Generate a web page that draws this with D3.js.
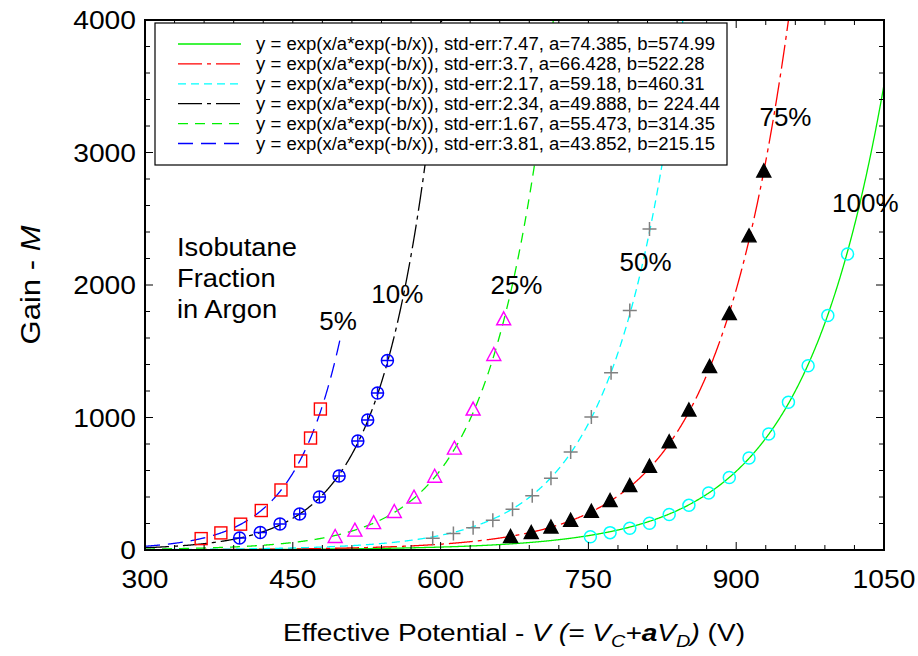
<!DOCTYPE html>
<html><head><meta charset="utf-8">
<script src="https://cdn.jsdelivr.net/npm/d3@7/dist/d3.min.js"></script>
<style>
body{margin:0;background:#fff;}
text{font-family:"Liberation Sans",Arial,sans-serif;fill:#000;}
</style></head>
<body>
<svg id="chart" width="918" height="656"></svg>
<script>
// ---------------- data ----------------
const xTicks = [300, 450, 600, 750, 900, 1050];
const yTicks = [0, 1000, 2000, 3000, 4000];
// fit parameters (legend order)
const fitNames = ["100%", "75%", "50%", "10%", "25%", "5%"];
const fitA = [74.385, 66.428, 59.18, 49.888, 55.473, 43.852];
const fitB = [574.99, 522.28, 460.31, 224.44, 314.35, 215.15];
const fitErr = ["7.47", "3.7", "2.17", "2.34", "1.67", "3.81"];
const fitAText = ["74.385", "66.428", "59.18", "49.888", "55.473", "43.852"];
const fitBText = ["574.99", "522.28", "460.31", " 224.44", "314.35", "215.15"];
const fitVMax = [1050, 1050, 1050, 1050, 1050, 498];
// measured points
const v5  = [357, 377, 397, 418, 438, 458, 468, 478];
const g5  = [86, 129, 195, 298, 453, 672, 845, 1064];
const v10 = [396, 417, 437, 457, 477, 497, 516, 526, 536, 546];
const g10 = [91, 132, 196, 272, 400, 558, 823, 981, 1185, 1430];
const v25 = [493, 513, 532, 553, 573, 594, 614, 633, 654, 664];
const g25 = [98, 146, 203, 287, 395, 553, 765, 1060, 1472, 1741];
const v50 = [592, 613, 633, 653, 673, 693, 712, 732, 753, 773, 792, 812];
const g50 = [88, 125, 168, 225, 307, 409, 541, 740, 1003, 1338, 1808, 2423];
const v75 = [671, 692, 712, 732, 753, 772, 792, 812, 832, 852, 873, 893, 913, 928];
const g75 = [98, 128, 170, 221, 288, 370, 483, 628, 813, 1053, 1381, 1780, 2367, 2857];
const v100 = [752, 772, 792, 812, 832, 852, 872, 893, 913, 933, 953, 973, 993, 1013];
const g100 = [100, 131, 164, 202, 268, 337, 430, 547, 694, 875, 1115, 1391, 1770, 2234];
// curve labels and where they sit (data coordinates)
const curveLabels = ["5%", "10%", "25%", "50%", "75%", "100%"];
const curveLabelV = [496, 556, 677, 808, 950, 1031];
const curveLabelG = [1660, 1864, 1932, 2106, 3200, 2553];
const annotation = ["Isobutane", "Fraction", "in Argon"];
</script>
<script>
const svg = d3.select("#chart");
const L = 145, R = 884, T = 20, B = 550;
const x = d3.scaleLinear().domain([300, 1050]).range([L, R]);
const y = d3.scaleLinear().domain([0, 4000]).range([B, T]);

function txt(parent, px, py, size, anchor, sx) {
  return parent.append("text")
    .attr("transform", `translate(${px},${py}) scale(${sx},1)`)
    .attr("text-anchor", anchor).attr("font-size", size);
}

svg.append("defs").append("clipPath").attr("id", "clip")
  .append("rect").attr("x", L).attr("y", T).attr("width", R - L).attr("height", B - T);

// curve styles
const lineColor = ["#00f000", "#ff0000", "#00ffff", "#000000", "#00f000", "#0000ff"];
const lineDash = [null, "24,5,4,5", "8,5", "24,5,4,5", "10,7", "15,8"];

const gCurves = svg.append("g").attr("clip-path", "url(#clip)");
fitA.forEach((a, i) => {
  const b = fitB[i];
  const pts = d3.range(300, fitVMax[i] + 0.01, 0.5).map(v => [v, Math.exp(v / a * Math.exp(-b / v))])
    .filter(p => p[1] < 4400);
  gCurves.append("path")
    .attr("d", d3.line().x(p => x(p[0])).y(p => y(p[1]))(pts))
    .attr("fill", "none").attr("stroke", lineColor[i]).attr("stroke-width", 1.3)
    .attr("stroke-dasharray", lineDash[i]);
});

// markers
const gm = svg.append("g");
function squares(vs, gs, col) {
  vs.forEach((v, i) => gm.append("rect").attr("x", x(v) - 6).attr("y", y(gs[i]) - 6)
    .attr("width", 12).attr("height", 12).attr("fill", "none").attr("stroke", col).attr("stroke-width", 1.4));
}
function circles(vs, gs, col, plus) {
  vs.forEach((v, i) => {
    const cx = x(v), cy = y(gs[i]);
    gm.append("circle").attr("cx", cx).attr("cy", cy).attr("r", 6)
      .attr("fill", "none").attr("stroke", col).attr("stroke-width", 1.5);
    if (plus) gm.append("path").attr("d", `M${cx-6},${cy}H${cx+6}M${cx},${cy-6}V${cy+6}`)
      .attr("stroke", col).attr("stroke-width", 1.4);
  });
}
function triangles(vs, gs, col, filled) {
  vs.forEach((v, i) => {
    const cx = x(v), cy = y(gs[i]);
    gm.append("path").attr("d", `M${cx},${cy-7.5}L${cx+7},${cy+5.5}L${cx-7},${cy+5.5}Z`)
      .attr("fill", filled ? col : "none").attr("stroke", col).attr("stroke-width", 1.4);
  });
}
function pluses(vs, gs, col) {
  vs.forEach((v, i) => {
    const cx = x(v), cy = y(gs[i]);
    gm.append("path").attr("d", `M${cx-7},${cy}H${cx+7}M${cx},${cy-7}V${cy+7}`)
      .attr("stroke", col).attr("stroke-width", 1.5);
  });
}
squares(v5, g5, "#ff0000");
circles(v10, g10, "#0000ff", true);
triangles(v25, g25, "#ff00ff", false);
pluses(v50, g50, "#808080");
triangles(v75, g75, "#000000", true);
circles(v100, g100, "#00ffff", false);

// frame
svg.append("rect").attr("x", L).attr("y", T).attr("width", R - L).attr("height", B - T)
  .attr("fill", "none").attr("stroke", "#000").attr("stroke-width", 2);

// ticks (inward on all four sides)
const ga = svg.append("g").attr("stroke", "#000").attr("stroke-width", 1);
d3.range(300, 1051, 30).forEach(v => {
  const major = (v - 300) % 150 === 0;
  const len = major ? 8 : 5;
  ga.append("line").attr("x1", x(v)).attr("x2", x(v)).attr("y1", B).attr("y2", B - len);
  ga.append("line").attr("x1", x(v)).attr("x2", x(v)).attr("y1", T).attr("y2", T + len);
});
d3.range(0, 4001, 200).forEach(g => {
  const major = g % 1000 === 0;
  const len = major ? 8 : 5;
  ga.append("line").attr("x1", L).attr("x2", L + len).attr("y1", y(g)).attr("y2", y(g));
  ga.append("line").attr("x1", R).attr("x2", R - len).attr("y1", y(g)).attr("y2", y(g));
});

// tick labels
xTicks.forEach(d => txt(svg, x(d), 588, 25, "middle", 1.13).text(d));
yTicks.forEach(d => txt(svg, 136, y(d) + 9, 25, "end", 1.13).text(d));

// axis titles
const yt = svg.append("text").attr("transform", "translate(40,285) rotate(-90) scale(1.15,1)")
  .attr("text-anchor", "middle").attr("font-size", 27);
yt.append("tspan").text("Gain - ");
yt.append("tspan").attr("font-style", "italic").text("M");

const xt = txt(svg, 514, 641, 24, "middle", 1.17);
xt.append("tspan").text("Effective Potential -  ");
xt.append("tspan").attr("font-style", "italic").text("V (= V");
xt.append("tspan").attr("font-style", "italic").attr("font-size", 17).attr("dy", 6).text("C");
xt.append("tspan").attr("font-style", "italic").attr("dy", -6).text("+");
xt.append("tspan").attr("font-style", "italic").attr("font-weight", "bold").text("a");
xt.append("tspan").attr("font-style", "italic").text("V");
xt.append("tspan").attr("font-style", "italic").attr("font-size", 17).attr("dy", 6).text("D");
xt.append("tspan").attr("font-style", "italic").attr("dy", -6).text(")");
xt.append("tspan").text("  (V)");

// annotation
annotation.forEach((s, i) => txt(svg, 177, 256 + i * 31, 26, "start", 1.05).text(s));

// curve labels
curveLabels.forEach((s, i) => txt(svg, x(curveLabelV[i]), y(curveLabelG[i]), 25, "middle", 1.04).text(s));

// legend
const lg = svg.append("g");
lg.append("rect").attr("x", 155).attr("y", 23).attr("width", 572).attr("height", 142)
  .attr("fill", "#fff").attr("stroke", "#000").attr("stroke-width", 1.2);
fitA.forEach((a, i) => {
  const yy = 44 + i * 19.9;
  lg.append("line").attr("x1", 178).attr("x2", 241).attr("y1", yy).attr("y2", yy)
    .attr("stroke", lineColor[i]).attr("stroke-width", 1.3).attr("stroke-dasharray", lineDash[i]);
  txt(lg, 256, yy + 6, 17.5, "start", 1.06)
    .text(`y = exp(x/a*exp(-b/x)), std-err:${fitErr[i]}, a=${fitAText[i]}, b=${fitBText[i]}`);
});
</script>
</body></html>
